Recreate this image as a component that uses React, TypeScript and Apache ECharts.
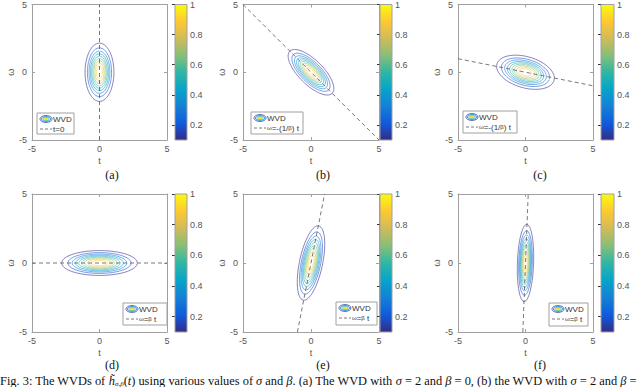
import React, { useEffect, useRef } from "react";
import * as echarts from "echarts";

// ---------- data ----------
const T_RANGE = [-5, 5];
const W_RANGE = [-5, 5];
const AXIS_INTERVAL = 5;
const CONTOUR_LEVELS = [0.1, 0.2, 0.3, 0.4, 0.5, 0.6, 0.7, 0.8, 0.9];
const COLORBAR_RANGE = [0.1, 1];
const COLORBAR_TICKS = [0.2, 0.4, 0.6, 0.8, 1];
const PANEL_LABELS = ["(a)", "(b)", "(c)", "(d)", "(e)", "(f)"];
// outermost (level 0.1) contour ellipse of each panel, in (t, ω) units
const OUTER_MAJOR = [2.15, 2.2, 2.2, 2.8, 2.75, 2.8];
const OUTER_MINOR = [1.07, 0.9, 1.15, 0.9, 0.85, 0.6];
const OUTER_ANGLE_DEG = [90, -45, -16, 0, 78, 88];
// dashed reference line ω = k·t (Infinity = the line t = 0)
const REF_SLOPES = [Infinity, -1, -0.2, 0, 5, 25];
const REF_LABELS = [
  "t=0",
  "{s|ω}=-(1/{s|β}) t",
  "{s|ω}=-(1/{s|β}) t",
  "{s|ω}={s|β} t",
  "{s|ω}={s|β} t",
  "{s|ω}={s|β} t",
];

// ---------- style / layout ----------
const PARULA = ["#352a87", "#0f5cdd", "#1481d6", "#06a4ca", "#2eb7a4", "#87bf77", "#d1bb59", "#fec832", "#f9fb0e"];
const COL_LEFT = [32, 243, 458];
const COL_W = [135, 136, 135];
const ROW_TOP = [3, 194];
const ROW_H = [137, 138];
const CB_LEFT = [175, 380, 601];
const CB_W = [12, 12, 13];
const LEGEND_BOXES = [
  [37, 113, 37, 21],
  [251, 112, 52, 22],
  [463, 111, 54, 22],
  [123, 303, 44, 22],
  [336, 302, 41, 23],
  [549, 303, 39, 23],
];
const LABEL_X = [112, 323, 540];
const LABEL_Y = [175, 365];
const AXIS_COLOR = "#a0a0a0";
const TEXT_COLOR = "#555";
const SANS = "'Liberation Sans', Arial, sans-serif";
const SERIF = "'Liberation Serif', 'Times New Roman', serif";

function hexToRgb(h: string) {
  const n = parseInt(h.slice(1), 16);
  return [(n >> 16) & 255, (n >> 8) & 255, n & 255];
}
function parula(t: number) {
  const x = Math.max(0, Math.min(1, t)) * (PARULA.length - 1);
  const i = Math.min(PARULA.length - 2, Math.floor(x));
  const f = x - i;
  const a = hexToRgb(PARULA[i]);
  const b = hexToRgb(PARULA[i + 1]);
  const c = a.map((v, k) => Math.round(v + (b[k] - v) * f));
  return `rgb(${c[0]},${c[1]},${c[2]})`;
}

function ellipsePoints(a: number, b: number, deg: number, scale: number) {
  const th = (deg * Math.PI) / 180;
  const pts: number[][] = [];
  for (let k = 0; k <= 120; k++) {
    const p = (k / 120) * 2 * Math.PI;
    const u = a * scale * Math.cos(p);
    const v = b * scale * Math.sin(p);
    pts.push([u * Math.cos(th) - v * Math.sin(th), u * Math.sin(th) + v * Math.cos(th)]);
  }
  return pts;
}

function refLine(k: number) {
  if (!isFinite(k)) return [[0, W_RANGE[0]], [0, W_RANGE[1]]];
  const pts: number[][] = [];
  for (const t of T_RANGE) {
    let tt = t;
    let w = k * t;
    if (w > W_RANGE[1]) { w = W_RANGE[1]; tt = w / k; }
    if (w < W_RANGE[0]) { w = W_RANGE[0]; tt = w / k; }
    pts.push([tt, w]);
  }
  return pts;
}

function buildOption() {
  const grid: any[] = [];
  const xMain: any[] = [], xTop: any[] = [], xCb: any[] = [];
  const yMain: any[] = [], yRight: any[] = [], yCb: any[] = [];
  const series: any[] = [];
  const graphic: any[] = [];
  const n = PANEL_LABELS.length;
  const stops = PARULA.map((c, i) => ({ offset: i / (PARULA.length - 1), color: c }));

  for (let i = 0; i < n; i++) {
    const r = Math.floor(i / 3), c = i % 3;
    grid.push({ left: COL_LEFT[c], top: ROW_TOP[r], width: COL_W[c], height: ROW_H[r] });
  }
  for (let i = 0; i < n; i++) {
    const r = Math.floor(i / 3), c = i % 3;
    grid.push({ left: CB_LEFT[c], top: ROW_TOP[r], width: CB_W[c], height: ROW_H[r] });
  }
  const tick = { show: true, inside: true, length: 3, lineStyle: { color: AXIS_COLOR, width: 1 } };
  const line = { show: true, lineStyle: { color: AXIS_COLOR, width: 1 } };
  const lbl = { color: TEXT_COLOR, fontSize: 9, fontFamily: SANS };

  for (let i = 0; i < n; i++) {
    xMain.push({
      type: "value", gridIndex: i, min: T_RANGE[0], max: T_RANGE[1], interval: AXIS_INTERVAL,
      position: "bottom", axisLine: { ...line, onZero: false }, axisTick: tick, splitLine: { show: false },
      axisLabel: { ...lbl, margin: 4 }, name: "t", nameLocation: "middle", nameGap: 16,
      nameTextStyle: { ...lbl, fontSize: 9 },
    });
    xTop.push({
      type: "value", gridIndex: i, min: T_RANGE[0], max: T_RANGE[1], interval: AXIS_INTERVAL,
      position: "top", axisLine: { ...line, onZero: false }, axisTick: tick, splitLine: { show: false },
      axisLabel: { show: false },
    });
    xCb.push({ type: "value", gridIndex: n + i, min: 0, max: 1, show: false });
    yMain.push({
      type: "value", gridIndex: i, min: W_RANGE[0], max: W_RANGE[1], interval: AXIS_INTERVAL,
      position: "left", axisLine: { ...line, onZero: false }, axisTick: tick, splitLine: { show: false },
      axisLabel: { ...lbl, margin: 5 }, name: "ω", nameLocation: "middle", nameGap: 15, nameRotate: 90,
      nameTextStyle: { ...lbl, fontSize: 9 },
    });
    yRight.push({
      type: "value", gridIndex: i, min: W_RANGE[0], max: W_RANGE[1], interval: AXIS_INTERVAL,
      position: "right", axisLine: { ...line, onZero: false }, axisTick: tick, splitLine: { show: false },
      axisLabel: { show: false },
    });
    yCb.push({
      type: "value", gridIndex: n + i, min: COLORBAR_RANGE[0], max: COLORBAR_RANGE[1],
      position: "right", axisLine: { show: false }, splitLine: { show: false },
      axisTick: { ...tick, customValues: COLORBAR_TICKS, lineStyle: { color: "#333", width: 1 } },
      axisLabel: { ...lbl, margin: 3, customValues: COLORBAR_TICKS, formatter: (v: number) => String(+v.toFixed(2)) },
    });
  }

  for (let i = 0; i < n; i++) {
    CONTOUR_LEVELS.forEach((L) => {
      const s = Math.sqrt(Math.log(L) / Math.log(CONTOUR_LEVELS[0]));
      const t = (L - COLORBAR_RANGE[0]) / (COLORBAR_RANGE[1] - COLORBAR_RANGE[0]);
      series.push({
        type: "line", name: "WVD", xAxisIndex: i, yAxisIndex: i, silent: true, z: 2,
        data: ellipsePoints(OUTER_MAJOR[i], OUTER_MINOR[i], OUTER_ANGLE_DEG[i], s),
        showSymbol: false, symbol: "none", smooth: false,
        lineStyle: { color: parula(t), width: 0.7, opacity: 0.85 },
      });
    });
    series.push({
      type: "line", name: "ref", xAxisIndex: i, yAxisIndex: i, silent: true, z: 3,
      data: refLine(REF_SLOPES[i]), showSymbol: false, symbol: "none",
      lineStyle: { color: "#555", width: 0.8, type: [4, 3] },
    });
    series.push({
      type: "custom", name: "colorbar", silent: true,
      xAxisIndex: 2 * n + i, yAxisIndex: 2 * n + i,
      data: [[0, COLORBAR_RANGE[0], 1, COLORBAR_RANGE[1]]],
      encode: { x: [0, 2], y: [1, 3] },
      renderItem: (_p: any, api: any) => {
        const p0 = api.coord([api.value(0), api.value(1)]);
        const p1 = api.coord([api.value(2), api.value(3)]);
        return {
          type: "rect",
          shape: { x: p0[0], y: p1[1], width: p1[0] - p0[0], height: p0[1] - p1[1] },
          style: { fill: new echarts.graphic.LinearGradient(0, 1, 0, 0, stops), stroke: AXIS_COLOR, lineWidth: 1 },
        };
      },
    });
  }

  // legends
  for (let i = 0; i < n; i++) {
    const [lx, ly, lw, lh] = LEGEND_BOXES[i];
    const cx = lx + 9, cy = ly + 6;
    graphic.push({
      type: "group", silent: true,
      children: [
        { type: "rect", shape: { x: lx, y: ly, width: lw, height: lh }, style: { fill: "#fff", stroke: AXIS_COLOR, lineWidth: 1 } },
        { type: "ellipse", shape: { cx, cy, rx: 6, ry: 3.4 }, style: { fill: "none", stroke: parula(0.05), lineWidth: 0.8 } },
        { type: "ellipse", shape: { cx, cy, rx: 4.6, ry: 2.5 }, style: { fill: "none", stroke: parula(0.3), lineWidth: 0.8 } },
        { type: "ellipse", shape: { cx, cy, rx: 3.2, ry: 1.7 }, style: { fill: "none", stroke: parula(0.5), lineWidth: 0.8 } },
        { type: "ellipse", shape: { cx, cy, rx: 1.8, ry: 1 }, style: { fill: parula(0.95), stroke: parula(0.85), lineWidth: 0.6 } },
        { type: "text", x: lx + 16, y: cy, style: { text: "WVD", font: `8px ${SANS}`, fill: "#333", verticalAlign: "middle" } },
        { type: "line", shape: { x1: lx + 3, y1: ly + 16, x2: lx + 15, y2: ly + 16 }, style: { stroke: "#555", lineWidth: 0.8, lineDash: [3, 2] } },
        {
          type: "text", x: lx + 16, y: ly + 16,
          style: {
            text: REF_LABELS[i], fontSize: 8, fontFamily: SANS, fill: "#333", verticalAlign: "middle",
            rich: { s: { fontSize: 6, fontFamily: SANS, fill: "#333" } },
          },
        },
      ],
    });
  }
  // sub-figure labels
  for (let i = 0; i < n; i++) {
    const r = Math.floor(i / 3), c = i % 3;
    graphic.push({
      type: "text", x: LABEL_X[c], y: LABEL_Y[r], silent: true,
      style: { text: PANEL_LABELS[i], font: `12px ${SERIF}`, fill: "#111", align: "center", verticalAlign: "middle" },
    });
  }
  // caption
  graphic.push({
    type: "text", x: 0, y: 381, silent: true,
    style: {
      text: "{n|Fig. 3: The WVDs of }{i|h̃}{sub|σ,β}{n|(}{i|t}{n|) using various values of }{i|σ}{n| and }{i|β}{n|. (a) The WVD with }{i|σ}{n| = 2 and }{i|β}{n| = 0, (b) the WVD with }{i|σ}{n| = 2 and }{i|β}{n| =}",
      verticalAlign: "middle",
      rich: {
        n: { fontSize: 12.4, fontFamily: SERIF, fill: "#111" },
        i: { fontSize: 12.4, fontFamily: SERIF, fontStyle: "italic", fill: "#111" },
        sub: { fontSize: 7, fontFamily: SERIF, fontStyle: "italic", fill: "#111", verticalAlign: "bottom" },
      },
    },
  });

  return {
    animation: false,
    backgroundColor: "#fff",
    grid,
    xAxis: [...xMain, ...xTop, ...xCb],
    yAxis: [...yMain, ...yRight, ...yCb],
    series,
    graphic,
  };
}

export default function App() {
  const ref = useRef<HTMLDivElement>(null);
  useEffect(() => {
    const chart = echarts.init(ref.current!, null, { renderer: "svg" });
    chart.setOption(buildOption() as any);
    return () => chart.dispose();
  }, []);
  return <div ref={ref} style={{ position: "absolute", left: 0, top: 0, width: 640, height: 387 }} />;
}
